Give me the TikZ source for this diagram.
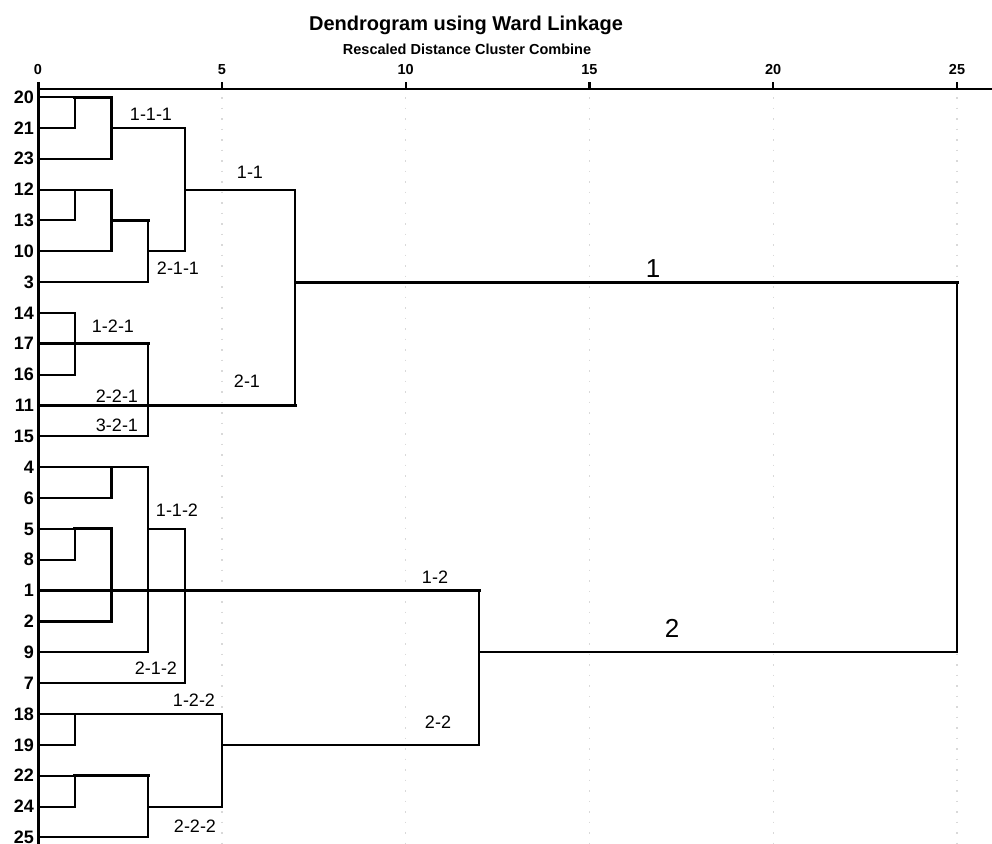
\documentclass[tikz,border=0pt]{standalone}
\usepackage{fontspec}
\setmainfont{Liberation Sans}
\usetikzlibrary{calc}
\begin{document}
\begin{tikzpicture}[x=1pt,y=-1pt,
  branch/.style={line width=2.1pt,line join=miter,line cap=rect},
  heavy/.style={line width=3pt,line cap=rect},
  axisline/.style={line width=2.2pt},
  gridline/.style={draw=gray!30,line width=1.4pt,dash pattern=on 1.5pt off 9pt},
  leaflbl/.style={anchor=east,inner sep=0pt,font=\bfseries\fontsize{18}{18}\selectfont},
  ticklbl/.style={inner sep=0pt,font=\bfseries\fontsize{14.5}{14.5}\selectfont},
  clbl/.style={inner sep=0pt,font=\fontsize{18}{18}\selectfont},
  biglbl/.style={inner sep=0pt,font=\fontsize{26}{26}\selectfont}]
\useasboundingbox (0,0) rectangle (992,843);
% title
\node[font=\bfseries\fontsize{20}{20}\selectfont,inner sep=0pt] (title) at (466,25) {Dendrogram using Ward Linkage};
\node[font=\bfseries\fontsize{14.5}{14.5}\selectfont,inner sep=0pt] (subtitle) at (467,49) {Rescaled Distance Cluster Combine};
% columns
\foreach \u in {0,...,25} \coordinate (c\u) at ({38+36.76*\u},89);
% grid lines
\foreach \u in {5,10,15,20,25} \draw[gridline] ($(c\u)+(0,8)$) -- ($(c\u)+(0,760)$);
% axis
\coordinate (axend) at (992,89);
\coordinate (axbot) at (38,850);
\draw[axisline] (c0) -- (axend);
\draw[line width=3pt] ($(c0)+(0,-7)$) -- (axbot);
\foreach \u in {0,5,10,15,20,25} {
  \draw[axisline] (c\u) -- ++(0,-7);
  \node[ticklbl] (t\u) at ($(c\u)+(0,-19)$) {\u};
}
% leaves
\foreach \n [count=\i from 0] in {20,21,23,12,13,10,3,14,17,16,11,15,4,6,5,8,1,2,9,7,18,19,22,24,25} {
  \coordinate (L\n) at (38,{97+30.85*\i});
  \node[leaflbl] (n\n) at (34,{97+30.85*\i}) {\n};
}
% cluster 20,21,23
\draw[branch] (L20) -- (L20-|c2) -- (L23-|c2) -- (L23);
\draw[branch] (L21) -- (L21-|c1) -- (L20-|c1);
\draw[heavy] (L20-|c1) -- (L20-|c2);
\draw[branch] (L21-|c2) -- (L21-|c4) -- (L10-|c4) -- (L10-|c3);
% cluster 12,13,10,3
\draw[branch] (L12) -- (L12-|c2) -- (L10-|c2) -- (L10);
\draw[branch] (L13) -- (L13-|c1) -- (L12-|c1);
\draw[heavy] (L13-|c2) -- (L13-|c3);
\draw[branch] (L13-|c3) -- (L3-|c3) -- (L3);
% 1-1 / 2-1
\draw[branch] (L12-|c4) -- (L12-|c7) -- (L11-|c7);
\draw[heavy] (L11) -- (L11-|c7);
% cluster 14,17,16,15
\draw[branch] (L14) -- (L14-|c1) -- (L16-|c1) -- (L16);
\draw[heavy] (L17) -- (L17-|c3);
\draw[branch] (L17-|c3) -- (L15-|c3) -- (L15);
% top join
\draw[heavy] (L3-|c7) -- (L3-|c25);
\draw[branch] (L3-|c25) -- (L9-|c25) -- (L9-|c12);
% cluster 4..7
\draw[branch] (L4) -- (L4-|c3) -- (L9-|c3) -- (L9);
\draw[branch] (L6) -- (L6-|c2) -- (L4-|c2);
\draw[branch] (L5) -- (L5-|c1);
\draw[heavy] (L5-|c1) -- (L5-|c2);
\draw[branch] (L5-|c2) -- (L2-|c2) -- (L2);
\draw[branch] (L8) -- (L8-|c1) -- (L5-|c1);
\draw[branch] (L5-|c3) -- (L5-|c4) -- (L7-|c4) -- (L7);
\draw[heavy] (L1) -- (L1-|c12);
\draw[branch] (L1-|c12) -- (L19-|c12);
% cluster 18..25
\draw[branch] (L18) -- (L18-|c5) -- (L24-|c5) -- (L24-|c3);
\draw[branch] (L19) -- (L19-|c1) -- (L18-|c1);
\draw[branch] (L19-|c5) -- (L19-|c12);
\draw[branch] (L24) -- (L24-|c1) -- (L22-|c1);
\draw[branch] (L22) -- (L22-|c1);
\draw[heavy] (L22-|c1) -- (L22-|c3);
\draw[branch] (L22-|c3) -- (L25-|c3) -- (L25);
% cluster labels
\node[clbl] (k111) at (151,114) {1-1-1};
\node[clbl] (k11) at (250,172) {1-1};
\node[clbl] (k211) at (178,268) {2-1-1};
\node[clbl] (k121) at (113,326) {1-2-1};
\node[clbl] (k21) at (247,381) {2-1};
\node[clbl] (k221) at (117,396) {2-2-1};
\node[clbl] (k321) at (117,425) {3-2-1};
\node[clbl] (k112) at (177,510) {1-1-2};
\node[clbl] (k12) at (435,577) {1-2};
\node[clbl] (k212) at (156,668) {2-1-2};
\node[clbl] (k122) at (194,700) {1-2-2};
\node[clbl] (k22) at (438,722) {2-2};
\node[clbl] (k222) at (195,826) {2-2-2};
\node[biglbl] (k1) at (653,269) {1};
\node[biglbl] (k2) at (672,628) {2};
\end{tikzpicture}
\end{document}
